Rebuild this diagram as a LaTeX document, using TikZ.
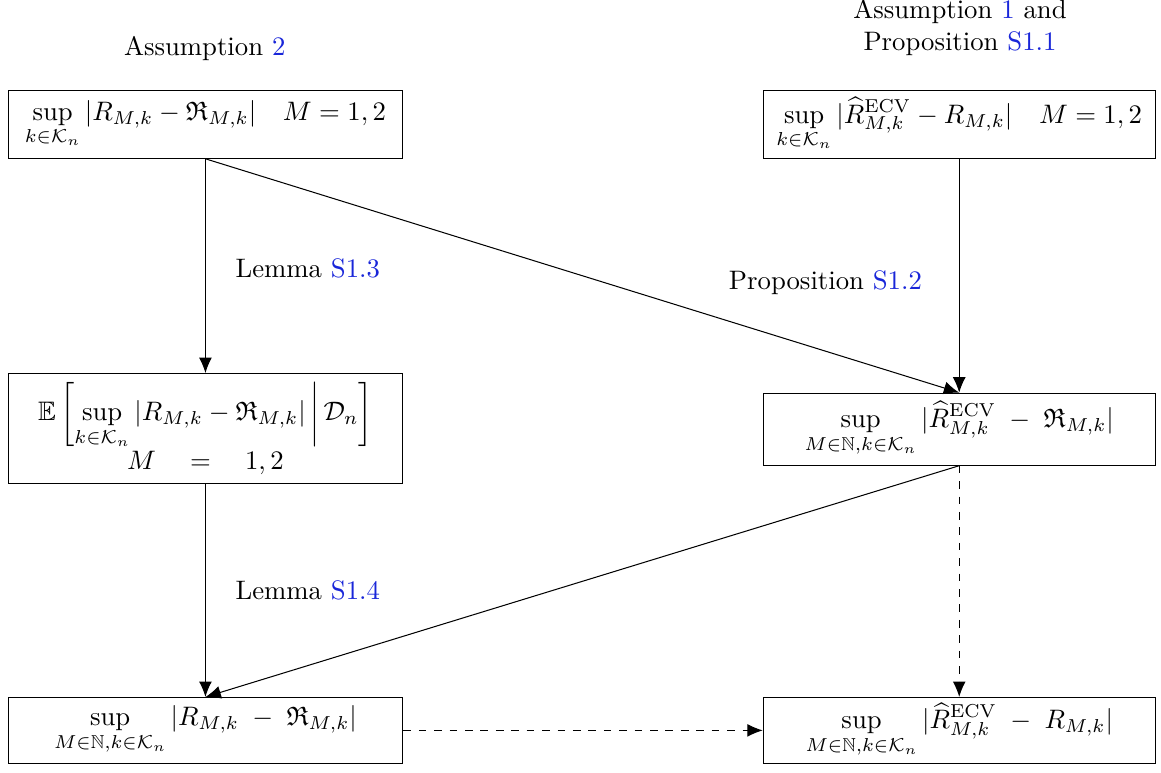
\RequirePackage{fix-cm}
\documentclass[tikz,border=0pt]{standalone}
\usepackage{amsmath,amssymb}
\usetikzlibrary{arrows.meta}
\definecolor{linkblue}{rgb}{0.1,0.15,0.85}
\newcommand{\refc}[1]{\textcolor{linkblue}{#1}}
\begin{document}
\begin{tikzpicture}[
    every node/.style={font=\fontsize{10.4}{12.5}\selectfont},
    box/.style={draw, minimum width=5.4cm, align=center, inner sep=2pt},
    arr/.style={-{Latex[length=6pt,width=5pt]}}]
    \useasboundingbox (0,0) rectangle (15.88,-10.56);
    % Boxes
    \node[box, minimum height=0.93cm] (tl) at (2.81,-1.70)
        {$\displaystyle \sup_{k\in\mathcal{K}_n}|R_{M,k}-\mathfrak{R}_{M,k}|\quad M=1,2$};
    \node[box, minimum width=5.36cm, minimum height=0.93cm] (tr) at (13.12,-1.70)
        {$\displaystyle \sup_{k\in\mathcal{K}_n}|\widehat{R}^{\mathrm{ECV}}_{M,k}-R_{M,k}|\quad M=1,2$};
    \node[box, minimum height=1.50cm] (ml) at (2.81,-5.86)
        {$\displaystyle \mathbb{E}\left[\sup_{k\in\mathcal{K}_n}|R_{M,k}-\mathfrak{R}_{M,k}|\,\middle|\,\mathcal{D}_n\right]$\\
         $M\quad=\quad 1,2$};
    \node[box, minimum width=5.36cm, minimum height=0.985cm] (mr) at (13.12,-5.87)
        {$\displaystyle \sup_{M\in\mathbb{N},k\in\mathcal{K}_n}|\widehat{R}^{\mathrm{ECV}}_{M,k}\;-\;\mathfrak{R}_{M,k}|$};
    \node[box, minimum height=0.90cm] (bl) at (2.81,-9.99)
        {$\displaystyle \sup_{M\in\mathbb{N},k\in\mathcal{K}_n}|R_{M,k}\;-\;\mathfrak{R}_{M,k}|$};
    \node[box, minimum width=5.36cm, minimum height=0.90cm] (br) at (13.12,-9.99)
        {$\displaystyle \sup_{M\in\mathbb{N},k\in\mathcal{K}_n}|\widehat{R}^{\mathrm{ECV}}_{M,k}\;-\;R_{M,k}|$};

    % Labels
    \node (asm2) at (2.80,-0.66) {Assumption \refc{2}};
    \node[align=center] (asm1) at (13.13,-0.38) {Assumption \refc{1} and\\Proposition \refc{S1.1}};
    \node (lem3) at (4.21,-3.67) {Lemma \refc{S1.3}};
    \node (prop2) at (11.29,-3.87) {Proposition \refc{S1.2}};
    \node (lem4) at (4.21,-8.08) {Lemma \refc{S1.4}};

    % Implications
    \draw[arr] (tl.south) -- (ml.north);
    \draw[arr] (tl.south) -- (mr.north);
    \draw[arr] (tr.south) -- (mr.north);
    \draw[arr] (ml.south) -- (bl.north);
    \draw[arr] (mr.south) -- (bl.north);
    \draw[arr, dashed] (mr.south) -- (br.north);
    \draw[arr, dashed] (bl.east) -- (br.west);
\end{tikzpicture}
\end{document}
